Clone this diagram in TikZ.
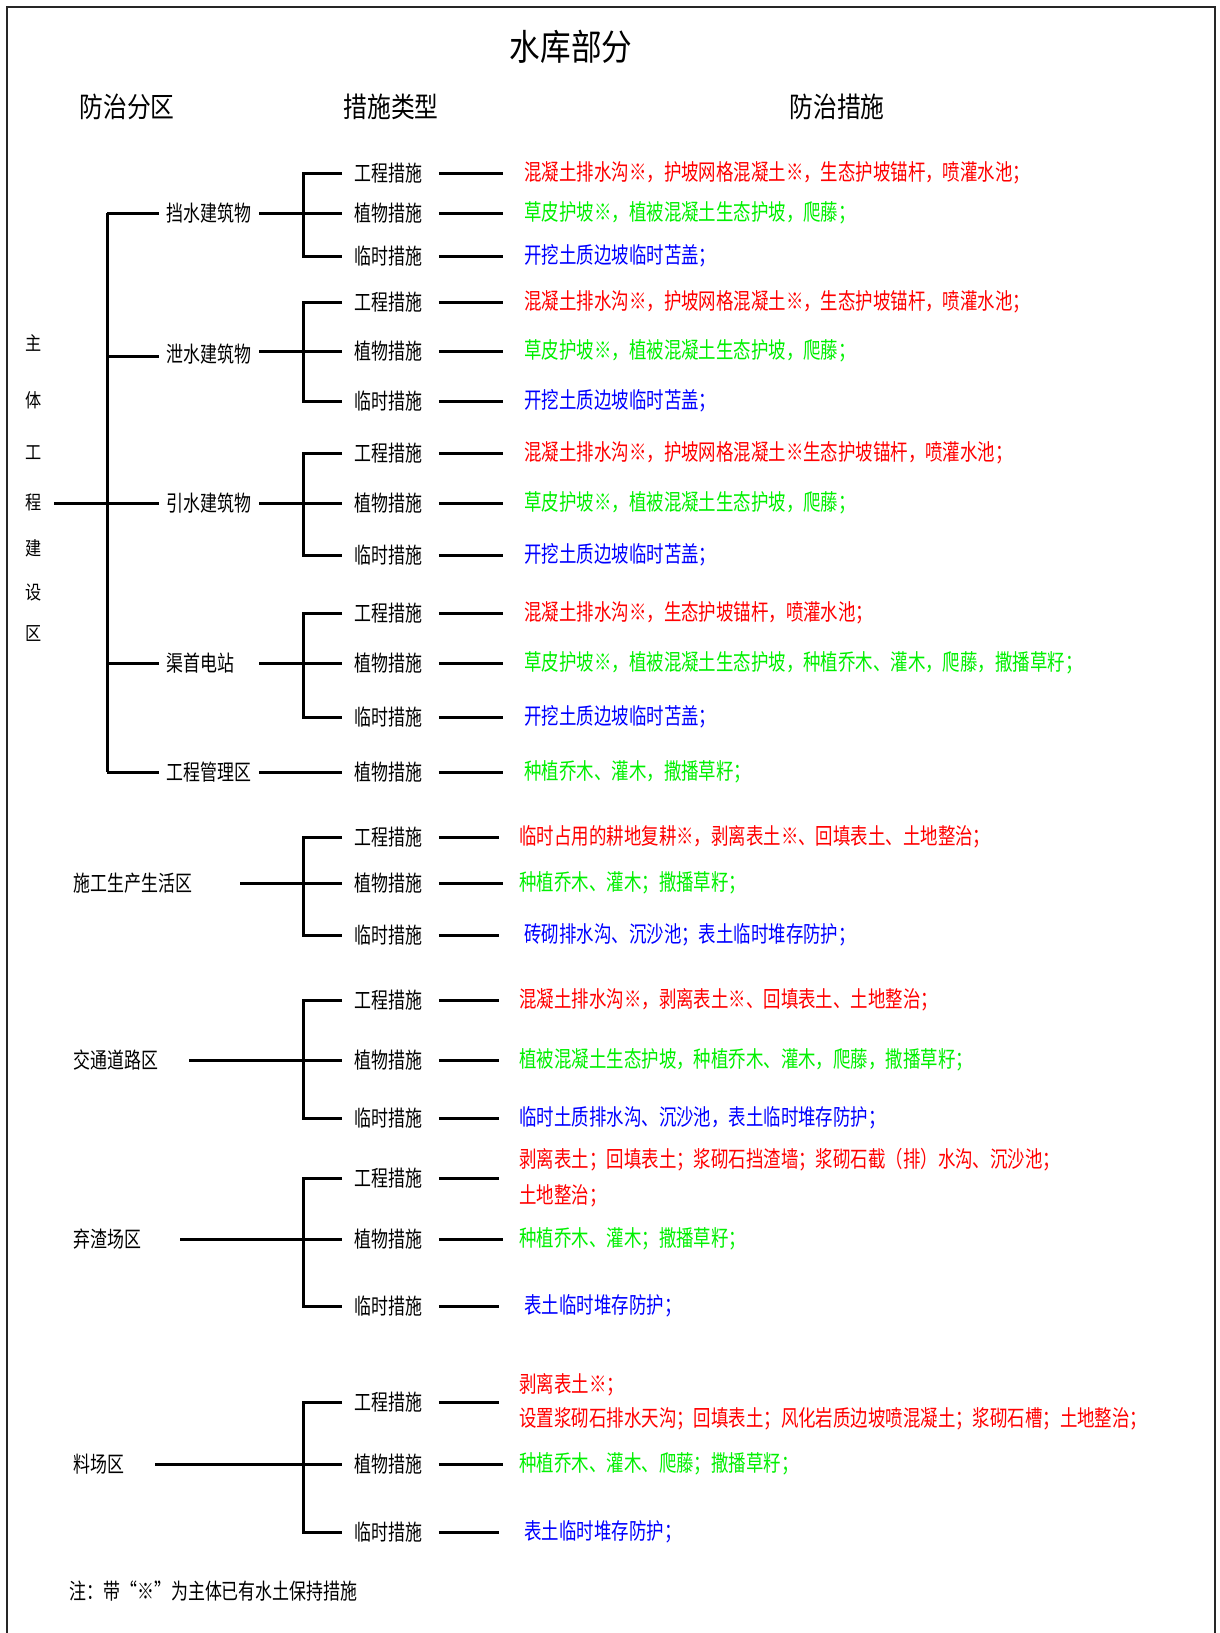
\documentclass[tikz,border=0pt]{standalone}
\usepackage{fontspec}
\newfontfamily\cjk[FakeStretch=0.77]{Noto Sans CJK SC}
\newfontfamily\cjkc[FakeStretch=0.775]{Noto Sans CJK SC}
\newfontfamily\cjkt[FakeStretch=0.85]{Noto Sans CJK SC}
\definecolor{cr}{RGB}{255,0,0}
\definecolor{cg}{RGB}{0,240,0}
\definecolor{cb}{RGB}{0,0,255}
% #1 name, #2 row y, #3 label, #4 colour, #5 text x, #6 line end x, #7 text
\newcommand\mrow[7]{%
  \node[lbl] (#1m) at (353,#2) {#3};
  \coordinate (#1e) at (#6,#2);
  \node[txt,text=#4] (#1t) at (#5,#2) {#7};
  \draw ([xshift=15pt]#1m.east) -- (#1e);
}
% bracket: #1,#2,#3 row names, #4 start coordinate of incoming line
\newcommand\brk[4]{%
  \draw ([xshift=-11pt]#1m.west) -- ([xshift=-50pt]#1m.west) -- ([xshift=-50pt]#3m.west) -- ([xshift=-11pt]#3m.west);
  \draw (#4) -- ([xshift=-11pt]#2m.west);
}
\begin{document}
\begin{tikzpicture}[x=1pt,y=-1pt,line width=3pt,line cap=butt,
  lbl/.style={anchor=west,inner sep=0pt,font=\cjk\fontsize{22}{24}\selectfont},
  txt/.style={anchor=west,inner sep=0pt,align=left,font=\cjkc\fontsize{22.5}{36}\selectfont},
  hdr/.style={inner sep=0pt,font=\cjkt\fontsize{28}{30}\selectfont},
  vch/.style={inner sep=0pt,font=\cjkt\fontsize{19}{20}\selectfont}]
\useasboundingbox (0,0) rectangle (1219,1633);
\fill[white] (0,0) rectangle (1219,1633);
\draw[line width=1.6pt,black!85] (7,1650) -- (7,7) -- (1215,7) -- (1215,1650);

% titles
\node[inner sep=0pt,font=\cjkt\fontsize{36}{38}\selectfont] (title) at (571,47) {水库部分};
\node[hdr] (h1) at (127,107) {防治分区};
\node[hdr] (h2) at (391,107) {措施类型};
\node[hdr] (h3) at (837,107) {防治措施};

% vertical label
\node[vch] (z1) at (34,343) {主};
\node[vch] (z2) at (34,400) {体};
\node[vch] (z3) at (34,453) {工};
\node[vch] (z4) at (34,502) {程};
\node[vch] (z5) at (34,548) {建};
\node[vch] (z6) at (34,592) {设};
\node[vch] (z7) at (34,633) {区};

% trunk
\coordinate (r0) at (54,503);
\coordinate (rt) at (107,213);
\coordinate (rb) at (107,772);
\coordinate (rm) at (107,503);
\draw (r0) -- (rm);
\draw (rt) -- (rb);

% sub areas of main works
\node[lbl] (s1) at (165,213) {挡水建筑物};
\node[lbl] (s2) at (165,354) {泄水建筑物};
\node[lbl] (s3) at (165,503) {引水建筑物};
\node[lbl] (s4) at (165,663) {渠首电站};
\node[lbl] (s5) at (165,772) {工程管理区};
\draw (rt) -- ([xshift=-6pt]s1.west);
\draw (107,356) -- ([xshift=-6pt,yshift=-2pt]s2.west);
\draw (rm) -- ([xshift=-6pt]s3.west);
\draw (107,663) -- ([xshift=-6pt]s4.west);
\draw (rb) -- ([xshift=-6pt]s5.west);
\coordinate (s1o) at (259,213);
\coordinate (s2o) at (259,351);
\coordinate (s3o) at (259,503);
\coordinate (s4o) at (259,663);
\coordinate (s5o) at (259,772);

% 挡水建筑物
\mrow{a1}{173}{工程措施}{cr}{523}{503}{混凝土排水沟※，护坡网格混凝土※，生态护坡锚杆，喷灌水池；}
\mrow{a2}{213}{植物措施}{cg}{523}{503}{草皮护坡※，植被混凝土生态护坡，爬藤；}
\mrow{a3}{256}{临时措施}{cb}{523}{503}{开挖土质边坡临时苫盖；}
\brk{a1}{a2}{a3}{s1o}
% 泄水建筑物
\mrow{b1}{302}{工程措施}{cr}{523}{503}{混凝土排水沟※，护坡网格混凝土※，生态护坡锚杆，喷灌水池；}
\mrow{b2}{351}{植物措施}{cg}{523}{503}{草皮护坡※，植被混凝土生态护坡，爬藤；}
\mrow{b3}{401}{临时措施}{cb}{523}{503}{开挖土质边坡临时苫盖；}
\brk{b1}{b2}{b3}{s2o}
% 引水建筑物
\mrow{c1}{453}{工程措施}{cr}{523}{503}{混凝土排水沟※，护坡网格混凝土※生态护坡锚杆，喷灌水池；}
\mrow{c2}{503}{植物措施}{cg}{523}{503}{草皮护坡※，植被混凝土生态护坡，爬藤；}
\mrow{c3}{555}{临时措施}{cb}{523}{503}{开挖土质边坡临时苫盖；}
\brk{c1}{c2}{c3}{s3o}
% 渠首电站
\mrow{d1}{613}{工程措施}{cr}{523}{503}{混凝土排水沟※，生态护坡锚杆，喷灌水池；}
\mrow{d2}{663}{植物措施}{cg}{523}{503}{草皮护坡※，植被混凝土生态护坡，种植乔木、灌木，爬藤，撒播草籽；}
\mrow{d3}{717}{临时措施}{cb}{523}{503}{开挖土质边坡临时苫盖；}
\brk{d1}{d2}{d3}{s4o}
% 工程管理区
\mrow{e1}{772}{植物措施}{cg}{523}{503}{种植乔木、灌木，撒播草籽；}
\draw (s5o) -- ([xshift=-11pt]e1m.west);

% 施工生产生活区
\node[lbl] (p1) at (72,883) {施工生产生活区};
\coordinate (p1o) at (240,883);
\mrow{f1}{837}{工程措施}{cr}{518}{499}{临时占用的耕地复耕※，剥离表土※、回填表土、土地整治；}
\mrow{f2}{883}{植物措施}{cg}{518}{503}{种植乔木、灌木；撒播草籽；}
\mrow{f3}{935}{临时措施}{cb}{523}{499}{砖砌排水沟、沉沙池；表土临时堆存防护；}
\brk{f1}{f2}{f3}{p1o}

% 交通道路区
\node[lbl] (p2) at (72,1060) {交通道路区};
\coordinate (p2o) at (189,1060);
\mrow{g1}{1000}{工程措施}{cr}{518}{499}{混凝土排水沟※，剥离表土※、回填表土、土地整治；}
\mrow{g2}{1060}{植物措施}{cg}{518}{499}{植被混凝土生态护坡，种植乔木、灌木，爬藤，撒播草籽；}
\mrow{g3}{1118}{临时措施}{cb}{518}{499}{临时土质排水沟、沉沙池，表土临时堆存防护；}
\brk{g1}{g2}{g3}{p2o}

% 弃渣场区
\node[lbl] (p3) at (72,1239) {弃渣场区};
\coordinate (p3o) at (180,1239);
\mrow{k1}{1178}{工程措施}{cr}{518}{499}{剥离表土；回填表土；浆砌石挡渣墙；浆砌石截（排）水沟、沉沙池；\\土地整治；}
\mrow{k2}{1239}{植物措施}{cg}{518}{503}{种植乔木、灌木；撒播草籽；}
\mrow{k3}{1306}{临时措施}{cb}{523}{499}{表土临时堆存防护；}
\brk{k1}{k2}{k3}{p3o}

% 料场区
\node[lbl] (p4) at (72,1464) {料场区};
\coordinate (p4o) at (155,1464);
\mrow{l1}{1402}{工程措施}{cr}{518}{499}{剥离表土※；\\[-2pt]设置浆砌石排水天沟；回填表土；风化岩质边坡喷混凝土；浆砌石槽；土地整治；}
\mrow{l2}{1464}{植物措施}{cg}{518}{503}{种植乔木、灌木、爬藤；撒播草籽；}
\mrow{l3}{1532}{临时措施}{cb}{523}{499}{表土临时堆存防护；}
\brk{l1}{l2}{l3}{p4o}

% note
\node[lbl] (note) at (68,1591) {注：带“※”为主体已有水土保持措施};
\end{tikzpicture}
\end{document}
